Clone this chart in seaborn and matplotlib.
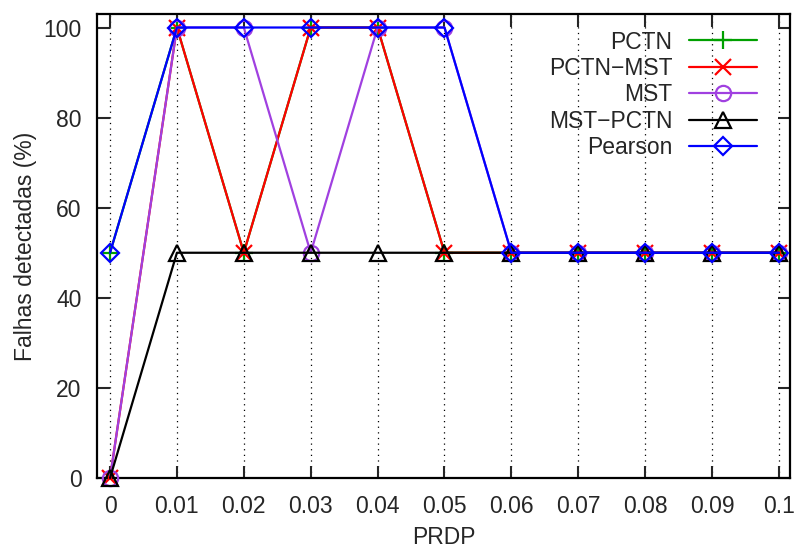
import matplotlib
matplotlib.use("Agg")
import matplotlib.pyplot as plt
import seaborn as sns
import pandas as pd

prdp = [0.0, 0.01, 0.02, 0.03, 0.04, 0.05, 0.06, 0.07, 0.08, 0.09, 0.1]
x_tick_labels = ["0", "0.01", "0.02", "0.03", "0.04", "0.05", "0.06", "0.07", "0.08", "0.09", "0.1"]
y_ticks = [0, 20, 40, 60, 80, 100]

pctn = [50, 100, 50, 100, 100, 50, 50, 50, 50, 50, 50]
pctn_mst = [0, 100, 50, 100, 100, 50, 50, 50, 50, 50, 50]
mst = [0, 100, 100, 50, 100, 100, 50, 50, 50, 50, 50]
mst_pctn = [0, 50, 50, 50, 50, 50, 50, 50, 50, 50, 50]
pearson = [50, 100, 100, 100, 100, 100, 50, 50, 50, 50, 50]

series_names = ["PCTN", "PCTN\u2212MST", "MST", "MST\u2212PCTN", "Pearson"]
series_values = [pctn, pctn_mst, mst, mst_pctn, pearson]

styles = [
    dict(color="#00a000", marker="+", ms=13, mfc="#00a000"),
    dict(color="#ff0000", marker="x", ms=11, mfc="#ff0000"),
    dict(color="#a040e0", marker="o", ms=11, mfc="none"),
    dict(color="#000000", marker="^", ms=11, mfc="none"),
    dict(color="#0000ff", marker="D", ms=9.5, mfc="none"),
]

sns.set_style("ticks")
plt.rcParams["font.family"] = ["Liberation Sans", "DejaVu Sans"]

fig = plt.figure(figsize=(7.95, 5.51), dpi=100)
ax = fig.add_axes([0.122, 0.1325, 0.8717, 0.8421])

for name, vals, st in zip(series_names, series_values, styles):
    df = pd.DataFrame({"PRDP": prdp, "val": vals})
    sns.lineplot(data=df, x="PRDP", y="val", ax=ax, sort=False, label=name,
                 color=st["color"], linewidth=1.6, marker=st["marker"],
                 markersize=st["ms"], markerfacecolor=st["mfc"],
                 markeredgecolor=st["color"], markeredgewidth=1.6,
                 errorbar=None, clip_on=False, zorder=3)

ax.set_xlim(-0.00195, 0.10165)
ax.set_ylim(0, 103)
ax.set_xticks(prdp)
ax.set_xticklabels(x_tick_labels)
ax.set_yticks(y_ticks)
ax.tick_params(axis="both", direction="in", length=9, width=1.5, top=True, right=True,
               labelsize=16.5)
ax.tick_params(axis="x", pad=12)
ax.tick_params(axis="y", pad=11)
for sp in ax.spines.values():
    sp.set_linewidth(1.6)
    sp.set_color("black")
ax.grid(axis="x", color="black", linestyle=(0, (1, 3.5)), linewidth=0.9)
ax.grid(axis="y", visible=False)
ax.set_axisbelow(True)

ax.set_xlabel("PRDP", fontsize=16.5, labelpad=6)
ax.set_ylabel("Falhas detectadas (%)", fontsize=16.5, labelpad=5)

leg = ax.legend(loc="upper right", bbox_to_anchor=(0.976, 0.999), frameon=False,
                markerfirst=False, fontsize=16.5, handlelength=3.0, handletextpad=0.7,
                labelspacing=0.15, borderpad=0.2)

fig.savefig("out.png", dpi=100)
